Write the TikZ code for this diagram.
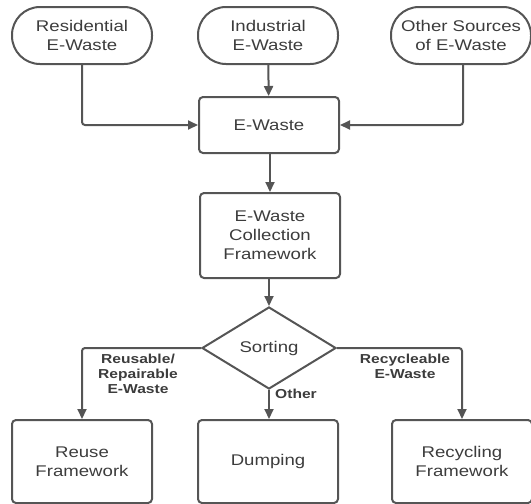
\documentclass[tikz,border=0pt]{standalone}
\usepackage{fontspec}
\setmainfont{Liberation Sans}[FakeStretch=1.2]
\usetikzlibrary{arrows.meta,shapes.geometric}
\definecolor{ln}{HTML}{555555}
\definecolor{tx}{HTML}{3C3C3C}
\begin{document}
\begin{tikzpicture}[x=1pt,y=-1pt,
  every node/.style={text=tx},
  boxtxt/.style={font=\fontsize{15.5}{19}\selectfont, align=center},
  stadium/.style={boxtxt, draw=ln, line width=2pt, rounded corners=28pt, minimum width=140pt, minimum height=57pt, inner sep=0pt},
  procbox/.style={boxtxt, draw=ln, line width=2pt, rounded corners=4pt, minimum width=140pt, inner sep=0pt},
  decide/.style={boxtxt, draw=ln, line width=2pt, diamond, minimum width=134pt, minimum height=82pt, inner sep=0pt},
  lbl/.style={font=\fontsize{13}{15}\bfseries\selectfont, align=center, inner sep=0pt},
  conn/.style={draw=ln, line width=2pt, rounded corners=3pt, -{Triangle[length=10pt,width=9pt]}}
]
\useasboundingbox (0,0) rectangle (531,504);
\node[stadium] (res) at (82,35.5) {Residential\\E-Waste};
\node[stadium] (ind) at (268,35.5) {Industrial\\E-Waste};
\node[stadium] (oth) at (461,35.5) {Other Sources\\of E-Waste};
\node[procbox, minimum height=56pt] (ew) at (269,125) {E-Waste};
\node[procbox, minimum height=85pt] (col) at (270,235.5) {E-Waste\\Collection\\Framework};
\node[decide] (sort) at (269,348) {Sorting};
\node[procbox, minimum height=83pt] (reuse) at (82,461.5) {Reuse\\Framework};
\node[procbox, minimum height=83pt] (dump) at (268,461.5) {Dumping};
\node[procbox, minimum height=83pt] (recy) at (462,461.5) {Recycling\\Framework};

\draw[conn] (ind) -- (ew);
\draw[conn] (res.south) |- (ew.west);
\draw[conn] (oth.south -| 463,0) |- (ew.east);
\draw[conn] (ew.south -| col.north) -- (col.north);
\draw[conn] (col.south -| sort.north) -- (sort.north);
\draw[conn] (sort.west) -| (reuse.north);
\draw[conn] (sort.south) -- (sort.south |- dump.north);
\draw[conn] (sort.east) -| (recy.north);

\node[lbl] (l1) at (138,374) {Reusable/\\Repairable\\E-Waste};
\node[lbl] (l2) at (405,366) {Recycleable\\E-Waste};
\node[lbl] (l3) at (296,394) {Other};
\end{tikzpicture}
\end{document}
